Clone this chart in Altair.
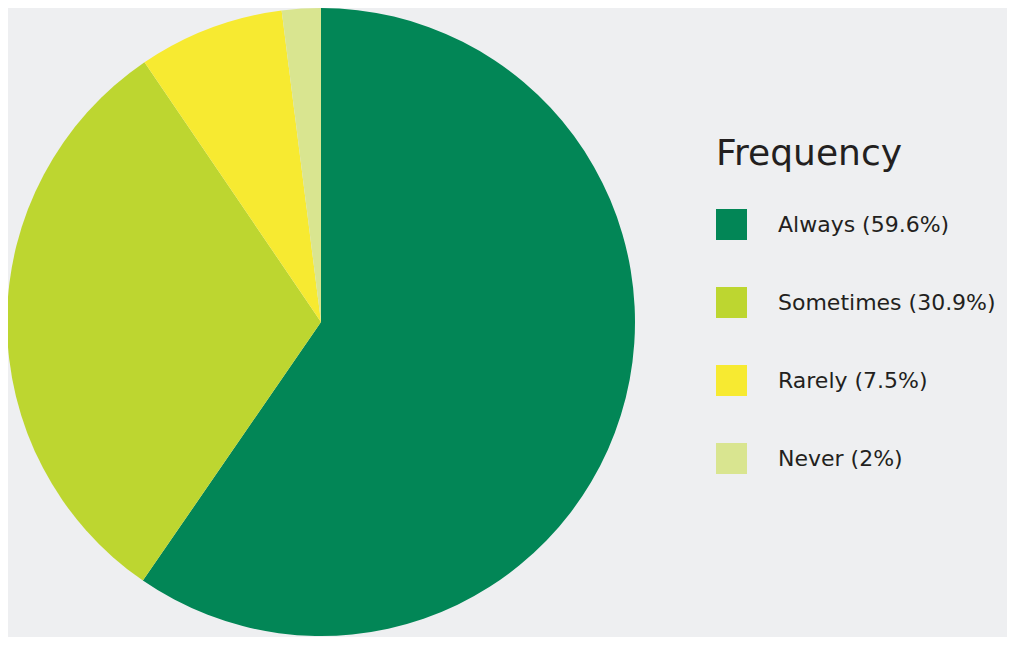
import altair as alt
import pandas as pd

categories = ["Always", "Sometimes", "Rarely", "Never"]
values = [59.6, 30.9, 7.5, 2]
colors = ["#028656", "#bdd630", "#f7ea31", "#d9e590"]

labels = [f"{c} ({v:g}%)" for c, v in zip(categories, values)]
df = pd.DataFrame({"label": labels, "value": values, "order": list(range(len(values)))})

chart = alt.Chart(df).mark_arc(radius=314, stroke=None).encode(
    theta=alt.Theta("value:Q", stack=True),
    order=alt.Order("order:Q"),
    x=alt.value(313),
    y=alt.value(314),
    color=alt.Color(
        "label:N",
        sort=labels,
        scale=alt.Scale(domain=labels, range=colors),
        legend=alt.Legend(
            title="Frequency",
            orient="none",
            legendX=708,
            legendY=129,
            symbolType="square",
            symbolSize=961,
            symbolStrokeWidth=0,
            symbolOpacity=1,
            titleFont="DejaVu Sans",
            titleFontSize=36,
            titleFontWeight="normal",
            titleColor="#231f20",
            titlePadding=36,
            titleLimit=400,
            labelFont="DejaVu Sans",
            labelFontSize=22,
            labelColor="#231f20",
            labelOffset=31,
            rowPadding=47,
            labelLimit=400,
        ),
    ),
).properties(
    width=999,
    height=629,
    background="#eeeff1",
    padding=0,
    autosize=alt.AutoSizeParams(type="none"),
).configure_view(stroke=None)

chart.save("out.html", embed_options={"renderer": "svg", "actions": False})
